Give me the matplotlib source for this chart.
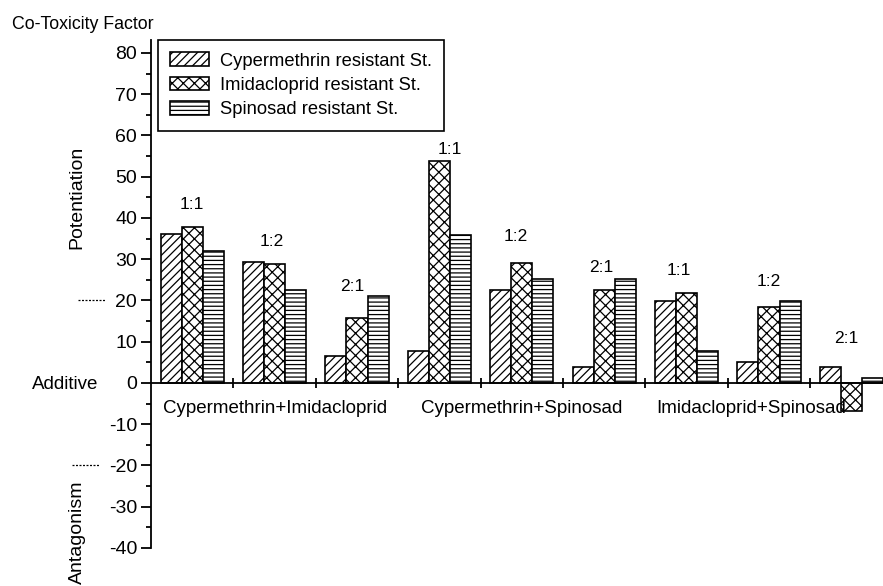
import numpy as np
import matplotlib
matplotlib.use("Agg")
import matplotlib.pyplot as plt
from matplotlib.transforms import blended_transform_factory

plt.rcParams['font.family'] = ['Liberation Sans', 'DejaVu Sans']
plt.rcParams['hatch.linewidth'] = 0.9

# ---- data ----
ratios = ["1:1", "1:2", "2:1", "1:1", "1:2", "2:1", "1:1", "1:2", "2:1"]
mixtures = ["Cypermethrin+Imidacloprid", "Cypermethrin+Spinosad", "Imidacloprid+Spinosad"]
series_names = ["Cypermethrin resistant St.", "Imidacloprid resistant St.", "Spinosad resistant St."]
cypermethrin = [36.0, 29.3, 6.5, 7.8, 22.5, 3.8, 19.8, 5.0, 3.8]
imidacloprid = [37.9, 28.8, 15.8, 53.9, 29.2, 22.5, 21.8, 18.4, -6.7]
spinosad = [32.0, 22.6, 21.2, 35.9, 25.2, 25.2, 7.8, 19.8, 1.1]
yticks = [-40, -30, -20, -10, 0, 10, 20, 30, 40, 50, 60, 70, 80]

# label placement (not data)
ratio_label_y = [43.2, 34.2, 23.5, 56.7, 35.4, 28.1, 27.2, 24.5, 10.9]
ratio_label_dx = [0.0, -0.03, -0.06, 0.13, -0.07, -0.04, -0.09, 0.0, -0.06]
mixture_label_x = [1.0, 4.0, 6.78]

W, H = 883, 586
fig = plt.figure(figsize=(W / 100, H / 100), dpi=100)
ax = fig.add_axes([151 / W, 1 - 548 / H, 1 - 151 / W, (548 - 40) / H])

x = np.arange(len(ratios))
bw = 0.255
hatches = ['////', 'xxx', '----']
for k, (vals, name, h) in enumerate(zip([cypermethrin, imidacloprid, spinosad], series_names, hatches)):
    ax.bar(x + (k - 1) * bw, vals, width=bw, facecolor='white', edgecolor='black',
           linewidth=1.2, hatch=h, label=name, zorder=2)

ax.set_xlim(-0.5, -0.5 + (W - 151) / 82.4)
ax.set_ylim(-40, 83.15)

ax.spines['top'].set_visible(False)
ax.spines['right'].set_visible(False)
ax.spines['bottom'].set_position(('data', 0))
ax.spines['bottom'].set_zorder(3)
for s in ['left', 'bottom']:
    ax.spines[s].set_linewidth(1.3)

ax.set_yticks(yticks)
ax.set_yticklabels([str(t) for t in yticks], fontsize=14)
ax.set_yticks(np.arange(-35, 80, 10), minor=True)
ax.tick_params(axis='y', which='major', direction='out', length=7, width=1.3, pad=3)
ax.tick_params(axis='y', which='minor', direction='out', length=3.5, width=1.3)
ax.set_xticks(np.arange(0.5, len(ratios) - 1, 1.0))
ax.set_xticklabels([])
ax.tick_params(axis='x', which='major', direction='inout', length=7, width=1.3)

for i, (r, dx, ly) in enumerate(zip(ratios, ratio_label_dx, ratio_label_y)):
    ax.text(i + dx, ly, r, ha='center', va='center', fontsize=12.5)

for mx, name in zip(mixture_label_x, mixtures):
    ax.text(mx, -6.3, name, ha='center', va='center', fontsize=13.5)

trans = blended_transform_factory(fig.transFigure, ax.transData)
ax.text(98 / W, 0, "Additive", transform=trans, ha='right', va='center_baseline', fontsize=13.5)
ax.plot([78 / W, 105 / W], [20, 20], transform=trans, color='black', lw=0.9,
        linestyle=(0, (1.6, 1.2)), clip_on=False)
ax.plot([72 / W, 99 / W], [-20, -20], transform=trans, color='black', lw=0.9,
        linestyle=(0, (1.6, 1.2)), clip_on=False)

fig.text(12 / W, 1 - 29 / H, "Co-Toxicity Factor", ha='left', va='baseline', fontsize=12.8)
fig.text(77 / W, 1 - 197 / H, "Potentiation", rotation=90, ha='center', va='center', fontsize=14)
fig.text(77 / W, 2 / H, "Antagonism", rotation=90, ha='center', va='bottom', fontsize=14)

leg = ax.legend(loc='upper left', bbox_to_anchor=(158 / W, 1 - 40 / H), bbox_transform=fig.transFigure,
                fontsize=13.2, frameon=True, fancybox=False, edgecolor='black', framealpha=1,
                handlelength=2.1, handleheight=0.75, labelspacing=0.4, handletextpad=0.6,
                borderpad=0.68, borderaxespad=0)
leg.get_frame().set_linewidth(1.2)

fig.savefig("out.png", dpi=100)
